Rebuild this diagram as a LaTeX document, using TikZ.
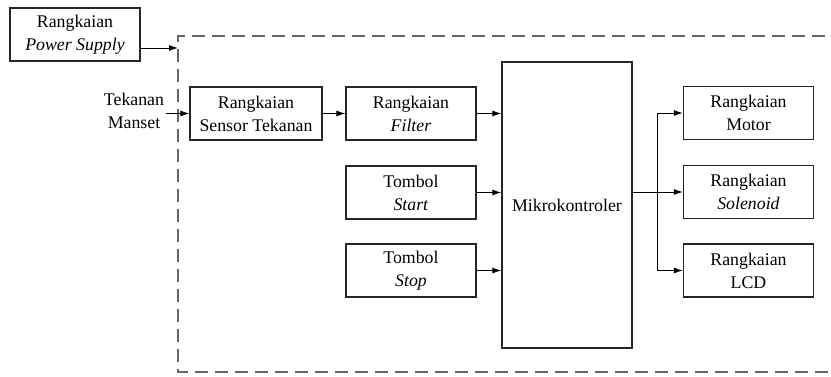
\documentclass[tikz,border=0pt]{standalone}
\usepackage{fontspec}
\setmainfont{Liberation Serif}
\usetikzlibrary{positioning,arrows.meta}

\begin{document}
\begin{tikzpicture}[x=0.5pt,y=-0.5pt,>={Latex[length=4.5pt,width=3pt]},
	blok/.style={draw=black!85,line width=0.6pt,minimum width=65pt,minimum height=26.5pt,
		align=center,inner sep=1pt,font=\fontsize{8.9}{11.5}\selectfont},
	panah/.style={->,line width=0.5pt},
	batas/.style={draw=black!60,line width=1.1pt,dash pattern=on 6.5pt off 3.5pt}]
	\useasboundingbox (0,0) rectangle (831,376);
	\clip (0,0) rectangle (831,376);

	% kotak sistem
	\draw[batas] (845,36) -- (178,36) -- (178,372) -- (845,372);

	% masukan
	\node[blok] (ps) at (75,34.5) {Rangkaian\\\textit{Power Supply}};
	\node[align=center,inner sep=1pt,font=\fontsize{8.9}{11.5}\selectfont] (manset) at (134,110.5) {Tekanan\\Manset};
	\coordinate (masuk) at (178,48);

	% blok tengah
	\node[blok,minimum width=66pt] (sensor) at (256,113.5) {Rangkaian\\Sensor Tekanan};
	\node[blok] (filter) at (411,113.5) {Rangkaian\\\textit{Filter}};
	\node[blok] (start) at (411,192.5) {Tombol\\\textit{Start}};
	\node[blok] (stop) at (411,270.5) {Tombol\\\textit{Stop}};
	\node[blok,minimum height=143pt] (mcu) at (567,205) {Mikrokontroler};

	% keluaran
	\node[blok] (motor) at (748.5,113) {Rangkaian\\Motor};
	\node[blok] (solenoid) at (748.5,192) {Rangkaian\\\textit{Solenoid}};
	\node[blok] (lcd) at (748.5,270.5) {Rangkaian\\LCD};
	\coordinate (cabang) at (657,192);

	% panah
	\draw[panah] (ps.east |- masuk) -- (masuk);
	\draw[panah] (manset.east |- sensor.west) -- (sensor.west);
	\draw[panah] (sensor) -- (filter);
	\draw[panah] (filter) -- (mcu.west |- filter);
	\draw[panah] (start) -- (mcu.west |- start);
	\draw[panah] (stop) -- (mcu.west |- stop);
	\draw[panah] (mcu.east |- solenoid) -- (solenoid.west);
	\draw[panah] (cabang) |- (motor.west);
	\draw[panah] (cabang) |- (lcd.west);
\end{tikzpicture}
\end{document}
